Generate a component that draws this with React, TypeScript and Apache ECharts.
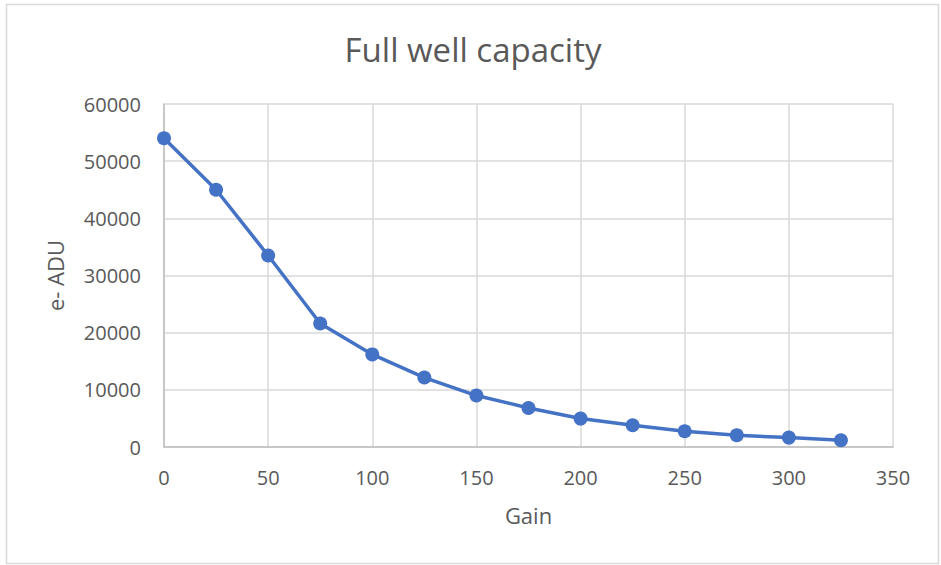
import React, { useEffect, useRef } from "react";
import * as echarts from "echarts";

const gains = [0, 25, 50, 75, 100, 125, 150, 175, 200, 225, 250, 275, 300, 325];
const fullWell = [54000, 45000, 33500, 21600, 16200, 12150, 9000, 6830, 4970, 3800, 2750, 2050, 1650, 1170];
const titleText = "Full well capacity";
const xName = "Gain";
const yName = "e- ADU";

export default function App() {
  const ref = useRef<HTMLDivElement>(null);
  useEffect(() => {
    if (!ref.current) return;
    const chart = echarts.init(ref.current, undefined, { renderer: "svg" });
    const font = "Open Sans, Noto Sans, sans-serif";
    chart.setOption({
      animation: false,
      backgroundColor: "#ffffff",
      title: {
        text: titleText,
        left: 468,
        textAlign: "center",
        top: 28,
        textStyle: { fontFamily: font, fontSize: 33, fontWeight: "normal", color: "#595959" },
      },
      graphic: [
        {
          type: "rect",
          shape: { x: 6.5, y: 4.5, width: 932, height: 559 },
          style: { fill: "none", stroke: "#d9d9d9", lineWidth: 1.5 },
          silent: true,
        },
      ],
      grid: { left: 164, right: 48, top: 104, bottom: 118 },
      xAxis: {
        type: "value",
        min: 0,
        max: 350,
        interval: 50,
        name: xName,
        nameLocation: "middle",
        nameGap: 57,
        nameTextStyle: { fontFamily: font, fontSize: 22, color: "#595959" },
        axisLine: { show: true, lineStyle: { color: "#bfbfbf", width: 1.5 } },
        axisTick: { show: false },
        axisLabel: { fontFamily: font, fontSize: 20, color: "#595959", margin: 20 },
        splitLine: { show: true, lineStyle: { color: "#d9d9d9", width: 1.5 } },
      },
      yAxis: {
        type: "value",
        min: 0,
        max: 60000,
        interval: 10000,
        name: yName,
        nameLocation: "middle",
        nameGap: 98,
        nameRotate: 90,
        nameTextStyle: { fontFamily: font, fontSize: 22, color: "#595959" },
        axisLine: { show: true, lineStyle: { color: "#bfbfbf", width: 1.5 } },
        axisTick: { show: false },
        axisLabel: {
          fontFamily: font,
          fontSize: 20,
          color: "#595959",
          margin: 23,
          formatter: (v: number) => String(v),
        },
        splitLine: { show: true, lineStyle: { color: "#d9d9d9", width: 1.5 } },
      },
      series: [
        {
          type: "line",
          data: gains.map((g, i) => [g, fullWell[i]]),
          symbol: "circle",
          symbolSize: 14,
          lineStyle: { color: "#4472C4", width: 3.5 },
          itemStyle: { color: "#4472C4" },
        },
      ],
    });
    return () => chart.dispose();
  }, []);
  return (
    <div
      ref={ref}
      style={{ position: "absolute", left: 0, top: 0, width: 941, height: 565 }}
    />
  );
}
